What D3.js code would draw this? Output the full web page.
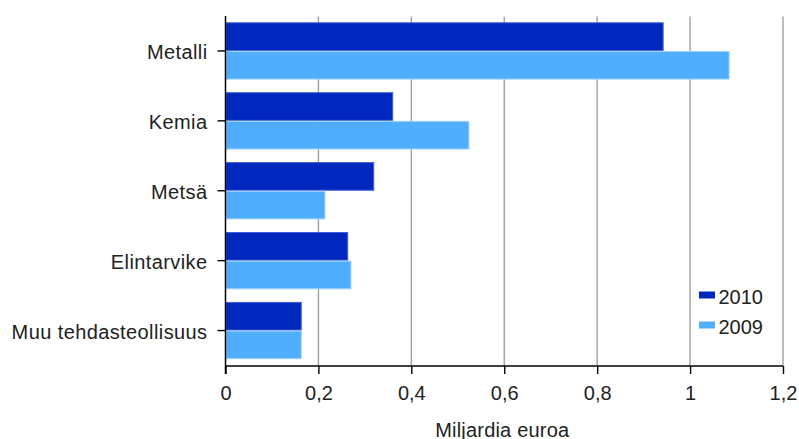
<!DOCTYPE html>
<html>
<head>
<meta charset="utf-8">
<script src="https://cdn.jsdelivr.net/npm/d3@7"></script>
<style>
  html, body { margin: 0; padding: 0; background: #fff; }
  svg { display: block; font-family: Arial, "Liberation Sans", sans-serif; }
</style>
</head>
<body>
<svg id="chart" width="799" height="439"></svg>
<script>
// ---- data ----
const categories = ["Metalli", "Kemia", "Metsä", "Elintarvike", "Muu tehdasteollisuus"];
const seriesNames = ["2010", "2009"];
const values2010 = [0.942, 0.360, 0.319, 0.263, 0.163];
const values2009 = [1.084, 0.524, 0.214, 0.270, 0.163];
const xTicks = [0, 0.2, 0.4, 0.6, 0.8, 1.0, 1.2];
const axisTitle = "Miljardia euroa";

// ---- styles ----
const colors = {"2010": "#0028BE", "2009": "#50AEFF"};
const strokes = {"2010": "#3f5fd6", "2009": "#9fd2ff"};

const svg = d3.select("#chart");
const plot = {left: 225.5, right: 783, top: 16.5, bottom: 366};

const x = d3.scaleLinear().domain([0, 1.2]).range([plot.left, plot.right]);
const y = d3.scaleBand().domain(categories).range([16, 365.5])
  .paddingInner(0.18).paddingOuter(0.09);
const ySub = d3.scaleBand().domain(seriesNames).range([0, y.bandwidth()]);

const locale = d3.formatLocale({decimal: ",", thousands: " ", grouping: [3], currency: ["", "€"]});
const fmt = v => locale.format(",")(+v.toFixed(1));

// gridlines
svg.append("g").selectAll("line").data(xTicks.filter(d => d > 0)).join("line")
  .attr("x1", d => x(d)).attr("x2", d => x(d))
  .attr("y1", plot.top).attr("y2", plot.bottom)
  .attr("stroke", "#a0a0a0").attr("stroke-width", 1.4);

// bars
const series = [
  {name: "2010", values: values2010},
  {name: "2009", values: values2009}
];
const gBars = svg.append("g");
series.forEach(s => {
  gBars.selectAll(null).data(categories).join("rect")
    .attr("x", x(0) + 0.5)
    .attr("y", (c) => y(c) + ySub(s.name) + 0.5)
    .attr("width", (c, i) => x(s.values[i]) - x(0) - 0.5)
    .attr("height", ySub.bandwidth() - 1)
    .attr("fill", colors[s.name])
    .attr("stroke", strokes[s.name])
    .attr("stroke-width", 1);
});

// x axis
const xAxis = d3.axisBottom(x).tickValues(xTicks).tickFormat(fmt).tickSize(8).tickPadding(12);
const gx = svg.append("g").attr("transform", `translate(0,${plot.bottom})`).call(xAxis);
gx.select(".domain").attr("stroke", "#000").attr("stroke-width", 1.5).attr("d", `M${plot.left},0H${plot.right}`);
gx.selectAll(".tick line").attr("stroke", "#000").attr("stroke-width", 1.4);
gx.selectAll(".tick text").attr("font-size", 20).attr("fill", "#222").attr("font-family", "Arial, 'Liberation Sans', sans-serif");

// y axis
const yAxis = d3.axisLeft(y).tickSize(8).tickPadding(10);
const gy = svg.append("g").attr("transform", `translate(${plot.left},0)`).call(yAxis);
gy.select(".domain").attr("stroke", "#000").attr("stroke-width", 1.5).attr("d", `M0,${plot.top - 0.5}V${plot.bottom + 8}`);
gy.selectAll(".tick line").attr("stroke", "#000").attr("stroke-width", 1.4);
gy.selectAll(".tick text").attr("font-size", 20).attr("fill", "#222")
  .attr("letter-spacing", 0.4).attr("dy", "0.4em")
  .attr("font-family", "Arial, 'Liberation Sans', sans-serif");

// axis title
svg.append("text").attr("x", (plot.left + plot.right) / 2 - 2).attr("y", 436.5)
  .attr("text-anchor", "middle").attr("font-size", 20).attr("fill", "#222")
  .attr("letter-spacing", 0.2)
  .text(axisTitle);

// legend
const legendY = d3.scalePoint().domain(seriesNames).range([295, 325]);
const lg = svg.append("g");
lg.selectAll("rect").data(seriesNames).join("rect")
  .attr("x", 699).attr("y", d => legendY(d) - 3.5)
  .attr("width", 16).attr("height", 7)
  .attr("fill", d => colors[d]);
lg.selectAll("text").data(seriesNames).join("text")
  .attr("x", 718.5).attr("y", d => legendY(d) + 8.5)
  .attr("font-size", 20).attr("fill", "#222")
  .text(d => d);
</script>
</body>
</html>
